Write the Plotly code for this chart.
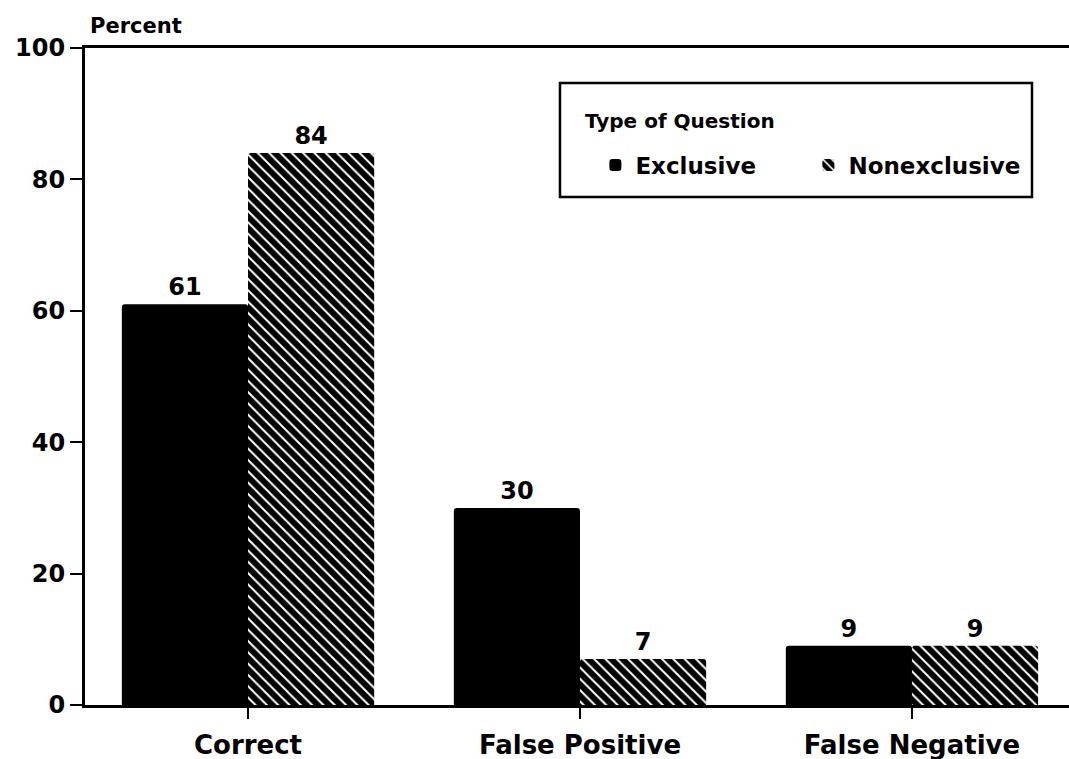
import plotly.graph_objects as go

categories = ["Correct", "False Positive", "False Negative"]
exclusive = [61, 30, 9]
nonexclusive = [84, 7, 9]
y_ticks = [0, 20, 40, 60, 80, 100]

FONT = "DejaVu Sans, Liberation Sans, Arial, sans-serif"

fig = go.Figure()
fig.add_trace(go.Bar(
    name="Exclusive", x=categories, y=exclusive,
    marker=dict(color="black", line=dict(width=0)),
    text=[str(v) for v in exclusive], textposition="outside",
    textfont=dict(family=FONT, size=24, color="black", weight="bold"),
    cliponaxis=False,
))
fig.add_trace(go.Bar(
    name="Nonexclusive", x=categories, y=nonexclusive,
    marker=dict(color="black", line=dict(width=0),
                pattern=dict(shape="\\", fgcolor="white", bgcolor="black",
                             size=8, solidity=0.25, fillmode="replace")),
    text=[str(v) for v in nonexclusive], textposition="outside",
    textfont=dict(family=FONT, size=24, color="black", weight="bold"),
    cliponaxis=False,
))

fig.update_layout(
    width=1069, height=759,
    margin=dict(l=85, r=0, t=48, b=54, autoexpand=False),
    paper_bgcolor="white", plot_bgcolor="white",
    barmode="group", bargap=0.24, bargroupgap=0,
    barcornerradius=3,
    font=dict(family=FONT, color="black"),
    legend=dict(
        orientation="h",
        x=0.5187, y=0.822, xanchor="left", yanchor="middle",
        borderwidth=0, bgcolor="rgba(0,0,0,0)",
        font=dict(family=FONT, size=23, color="black", weight="bold"),
        entrywidth=168, entrywidthmode="pixels",
    ),
    xaxis=dict(
        range=[-0.491, 2.473], showgrid=False, automargin=False,
        showline=True, linecolor="black", linewidth=3, mirror=True,
        ticks="outside", ticklen=11, tickwidth=2, tickcolor="black",
        ticklabelstandoff=4,
        tickfont=dict(family=FONT, size=26, color="black", weight="bold"),
        zeroline=False,
    ),
    yaxis=dict(
        range=[0, 100], tickvals=y_ticks, showgrid=False, automargin=False,
        showline=True, linecolor="black", linewidth=3,
        ticks="outside", ticklen=12, tickwidth=2, tickcolor="black",
        tickfont=dict(family=FONT, size=24, color="black", weight="bold"),
        zeroline=False,
    ),
    shapes=[dict(
        type="rect", xref="paper", yref="paper",
        x0=0.4827, x1=0.9624, y0=0.7732, y1=0.9467,
        line=dict(color="black", width=2.5), fillcolor="rgba(0,0,0,0)",
        layer="above",
    )],
    annotations=[
        dict(
            text="<b>Percent</b>", xref="paper", yref="paper",
            x=0.003, y=1.0, xanchor="left", yanchor="bottom", yshift=8,
            showarrow=False, font=dict(family=FONT, size=21, color="black"),
        ),
        dict(
            text="<b>Type of Question</b>", xref="paper", yref="paper",
            x=0.5061, y=0.8889, xanchor="left", yanchor="middle",
            showarrow=False, font=dict(family=FONT, size=20, color="black"),
        ),
    ],
)

fig.write_html(
    "out.html",
    config={"displayModeBar": False},
    post_script="document.body.style.margin='0';document.body.style.padding='0';",
)
